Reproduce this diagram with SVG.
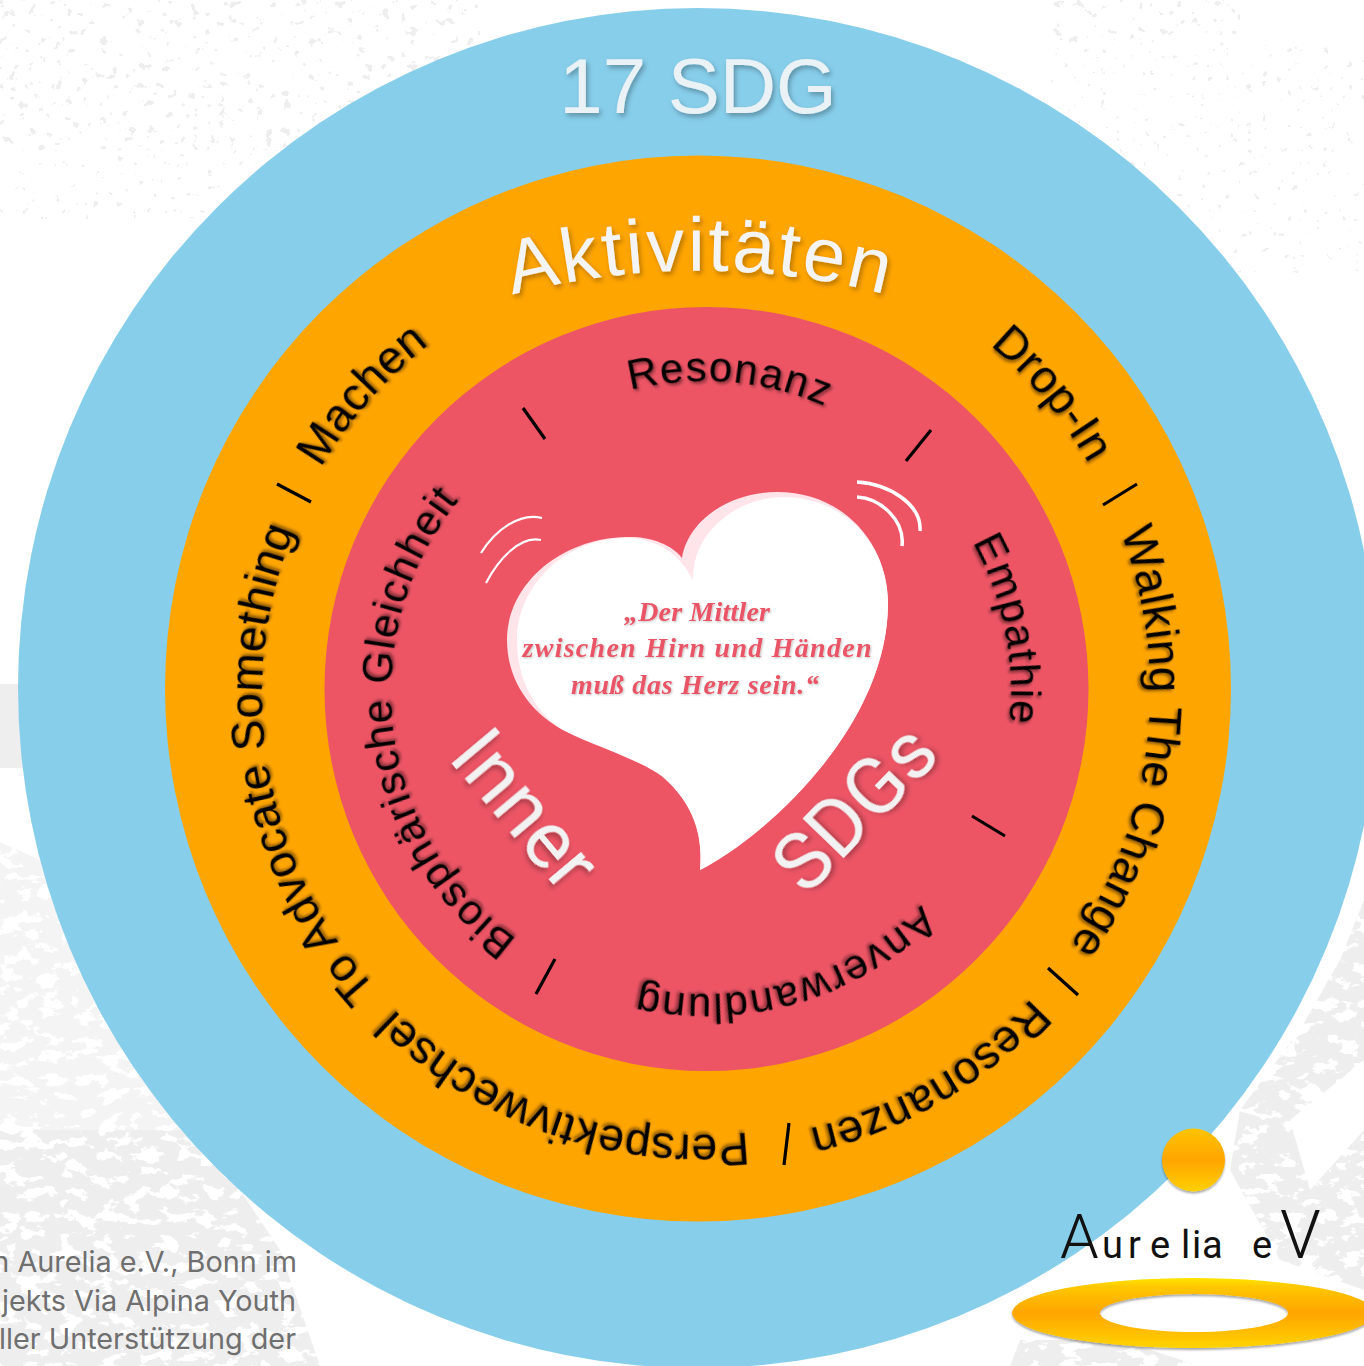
<svg xmlns="http://www.w3.org/2000/svg" xmlns:xlink="http://www.w3.org/1999/xlink" width="1364" height="1366" viewBox="0 0 1364 1366">
<style>
.ring{font-family:"Liberation Sans",Arial,sans-serif;font-size:46px;letter-spacing:.4px;fill:#000;filter:url(#ds)}
.inner{font-family:"Liberation Sans",Arial,sans-serif;font-size:42px;letter-spacing:1.4px;fill:#000;filter:url(#ds)}
.big{font-family:Roboto,"Liberation Sans",sans-serif;font-weight:400;fill:#f2f2f2;filter:url(#ds2)}
.sep{stroke:#000;stroke-width:3.2;fill:none;stroke-linecap:butt}
.wave{stroke:#fff;fill:none;stroke-linecap:butt}
.quote{font-family:"Liberation Serif",serif;font-style:italic;font-weight:700;font-size:28px;fill:#e95566;text-anchor:middle;filter:url(#ds3)}
.note{font-family:Inter,"Liberation Sans",sans-serif;font-size:28.8px;fill:#6f6f6f;text-anchor:end}
.logo{font-family:Roboto,"Liberation Sans",sans-serif;font-weight:400;fill:#111}
</style>
<defs>
<filter id="ds" x="-20%" y="-20%" width="140%" height="140%"><feDropShadow dx="2" dy="2" stdDeviation="1.8" flood-color="#000" flood-opacity=".45"/></filter>
<filter id="ds2" x="-20%" y="-20%" width="140%" height="140%"><feDropShadow dx="2" dy="3" stdDeviation="2.5" flood-color="#000" flood-opacity=".3"/></filter>
<filter id="ds3" x="-5%" y="-20%" width="110%" height="140%"><feDropShadow dx="1" dy="1" stdDeviation="1" flood-color="#000" flood-opacity=".25"/></filter>
<filter id="ds4" x="-10%" y="-20%" width="120%" height="140%"><feDropShadow dx="0" dy="2" stdDeviation="1.2" flood-color="#000" flood-opacity=".35"/></filter>
<filter id="rock" x="0" y="0" width="100%" height="100%" color-interpolation-filters="sRGB">
<feTurbulence type="fractalNoise" baseFrequency=".05 .08" numOctaves="4" seed="7"/>
<feColorMatrix values="0 0 0 0 .933 0 0 0 0 .933 0 0 0 0 .933 -22 0 0 0 13.2"/>
<feComposite in2="SourceAlpha" operator="in"/>
</filter>
<filter id="speck" x="0" y="0" width="100%" height="100%" color-interpolation-filters="sRGB">
<feTurbulence type="fractalNoise" baseFrequency=".11" numOctaves="3" seed="11"/>
<feColorMatrix values="0 0 0 0 .933 0 0 0 0 .933 0 0 0 0 .933 24 0 0 0 -16.2"/>
<feComposite in2="SourceAlpha" operator="in"/>
</filter>
<filter id="speck2" x="0" y="0" width="100%" height="100%" color-interpolation-filters="sRGB">
<feTurbulence type="fractalNoise" baseFrequency=".13" numOctaves="3" seed="23"/>
<feColorMatrix values="0 0 0 0 .933 0 0 0 0 .933 0 0 0 0 .933 24 0 0 0 -17.6"/>
<feComposite in2="SourceAlpha" operator="in"/>
</filter>
<linearGradient id="sun" x1="0" y1="0" x2="0" y2="1"><stop offset="0" stop-color="#ffc400"/><stop offset=".5" stop-color="#ffa500"/><stop offset="1" stop-color="#ffd000"/></linearGradient>
<linearGradient id="halo" x1="0" y1="0" x2="0" y2="1"><stop offset="0" stop-color="#ffe600"/><stop offset=".12" stop-color="#ffc800"/><stop offset=".5" stop-color="#ffa500"/><stop offset="1" stop-color="#ffd400"/></linearGradient>
<path id="o435" d="M698 1123A435 435 0 1 1 698 253A435 435 0 1 1 698 1123"/>
<path id="o445" d="M698 1133A445 445 0 1 1 698 243A445 445 0 1 1 698 1133"/>
<path id="r305" d="M706 994A305 305 0 1 1 706 384A305 305 0 1 1 706 994"/>
<path id="aktp" d="M 460 311 A 734 734 0 0 1 940 311"/>
</defs>

<g id="background">
<rect width="1364" height="1366" fill="#fff"/>
<rect x="0" y="0" width="480" height="150" filter="url(#speck)"/>
<rect x="0" y="150" width="290" height="70" filter="url(#speck2)"/>
<rect x="1050" y="0" width="190" height="45" filter="url(#speck)"/>
<rect x="1050" y="45" width="314" height="230" filter="url(#speck2)"/>
<rect x="0" y="684" width="24" height="84" fill="#eee"/>
<path d="M0 842L40 860L80 905L120 1000L200 1130L0 1130Z" filter="url(#rock)" opacity=".6"/>
<path d="M0 1130L200 1130L280 1250L320 1366H0Z" filter="url(#rock)"/>
<path d="M1010 1366L1020 1340L1120 1340L1200 1366Z" filter="url(#rock)"/>
<path d="M1364 900L1340 960L1300 1030L1240 1110L1230 1170L1280 1260L1364 1290L1364 1130L1310 1190L1290 1120L1364 1060Z" filter="url(#rock)"/>
</g>

<g id="ring-sdg"><circle cx="698" cy="688" r="680" fill="#87ceeb"/>
<text x="698" y="113" font-family="Liberation Sans,sans-serif" font-size="78" fill="#eaf2f6" text-anchor="middle" filter="url(#ds2)">17 SDG</text></g>

<g id="ring-activities"><circle cx="698" cy="688.5" r="533" fill="#ffa500"/>
<text font-family="Liberation Sans,sans-serif" font-size="76" fill="#f4f4f4" letter-spacing="2.6" text-anchor="middle" filter="url(#ds2)"><textPath href="#aktp" startOffset="50%">Aktivitäten</textPath></text>
<g id="label-advocate" transform="translate(-1 7) rotate(-100.1 698 688)"><text class="ring" text-anchor="middle"><textPath href="#o435" startOffset="50%">To Advocate Something</textPath></text></g>
<g id="label-machen" transform="translate(-2 0) rotate(-48.7 698 688)"><text class="ring" text-anchor="middle"><textPath href="#o435" startOffset="50%">Machen</textPath></text></g>
<g id="label-dropin" transform="translate(12 -10) rotate(50.3 698 688)"><text class="ring" text-anchor="middle"><textPath href="#o435" startOffset="50%">Drop-In</textPath></text></g>
<g id="label-walking" transform="translate(7 3) rotate(97 698 688)"><text class="ring" text-anchor="middle"><textPath href="#o445" startOffset="50%">Walking The Change</textPath></text></g>
<g id="label-resonanzen" transform="translate(12 17) rotate(149.6 698 688)"><text class="ring" text-anchor="middle"><textPath href="#o435" startOffset="50%">Resonanzen</textPath></text></g>
<g id="label-perspektiv" transform="translate(2 12) rotate(199.2 698 688)"><text class="ring" text-anchor="middle"><textPath href="#o435" startOffset="50%">Perspektivwechsel</textPath></text></g>
</g>

<g id="ring-inner"><circle cx="706.5" cy="689" r="382" fill="#ed5565"/>
<g id="label-resonanz" transform="translate(-2 -3) rotate(4.8 706 689)"><text class="inner" text-anchor="middle"><textPath href="#r305" startOffset="50%">Resonanz</textPath></text></g>
<g id="label-empathie" transform="translate(0 2) rotate(78.5 706 689)"><text class="inner" text-anchor="middle"><textPath href="#r305" startOffset="50%">Empathie</textPath></text></g>
<g id="label-anverwandlung" transform="rotate(164 706 689)"><text class="inner" text-anchor="middle"><textPath href="#r305" startOffset="50%">Anverwandlung</textPath></text></g>
<g id="label-biosphaere" transform="translate(-10 3) rotate(262.5 706 689)"><text class="inner" text-anchor="middle"><textPath href="#r305" startOffset="50%">Biosphärische Gleichheit</textPath></text></g>
<text class="big" font-size="80" transform="translate(447 758) rotate(50)">Inner</text>
<text class="big" font-size="80" transform="translate(806 897) rotate(-46)">SDGs</text>
</g>

<g id="heart">
<path fill="#ffe4ea" d="M700 870C703 835 695 805 663 777C640 757 600 750 563 730C530 712 507 680 507 640C507 585 560 537 630 537C652 537 672 545 682 558C688 520 730 492 777 492C845 492 888 545 888 603C888 730 760 840 700 870Z"/>
<path fill="#fff" d="M700 870C703 838 695 805 663 777C640 760 600 748 563 730C535 712 517 680 517 640C517 590 560 537 630 538C660 540 680 555 693 580C692 530 740 497 783 497C845 497 888 545 888 603C888 730 760 840 700 870Z"/>
<path class="wave" stroke-width="3.5" d="M857 482C890 484 922 505 920 531"/>
<path class="wave" stroke-width="3.5" d="M857 497C880 498 905 520 902 546"/>
<path class="wave" stroke-width="2.2" d="M481 553C495 530 520 512 542 518"/>
<path class="wave" stroke-width="2.2" d="M486 583C498 560 520 535 541 540"/>
<text class="quote" x="697" y="621" textLength="146">„Der Mittler</text>
<text class="quote" x="697" y="657" textLength="349">zwischen Hirn und Händen</text>
<text class="quote" x="695" y="694" textLength="248">muß das Herz sein.“</text>
</g>

<g id="connectors">
<path class="sep" d="M277 484L311 502M1137 484L1103 505M1048 968L1078 995M789 1123L784 1165"/>
<path class="sep" d="M523 408L545 439M931 430L906 461M972 816L1005 836M555 959L536 994"/>
</g>

<g id="note">
<text class="note" x="297" y="1272">n Aurelia e.V., Bonn im</text>
<text class="note" x="296" y="1311">jekts Via Alpina Youth</text>
<text class="note" x="296" y="1349">ller Unterstützung der</text>
</g>

<g id="logo">
<circle cx="1193.5" cy="1160" r="31.5" fill="url(#sun)" filter="url(#ds4)"/>
<path fill="url(#halo)" fill-rule="evenodd" filter="url(#ds4)" d="M1012 1313A181 35 0 1 1 1374 1313A181 35 0 1 1 1012 1313ZM1100 1313A94 19 0 1 0 1288 1313A94 19 0 1 0 1100 1313Z"/>
<text class="logo" y="1258"><tspan x="1060" font-size="62" font-weight="300">A</tspan><tspan x="1102 1128 1150 1181 1192 1202" font-size="38">urelia</tspan><tspan x="1252" font-size="38">e</tspan><tspan x="1280" font-size="66" font-weight="300">V</tspan></text>
</g>
</svg>
